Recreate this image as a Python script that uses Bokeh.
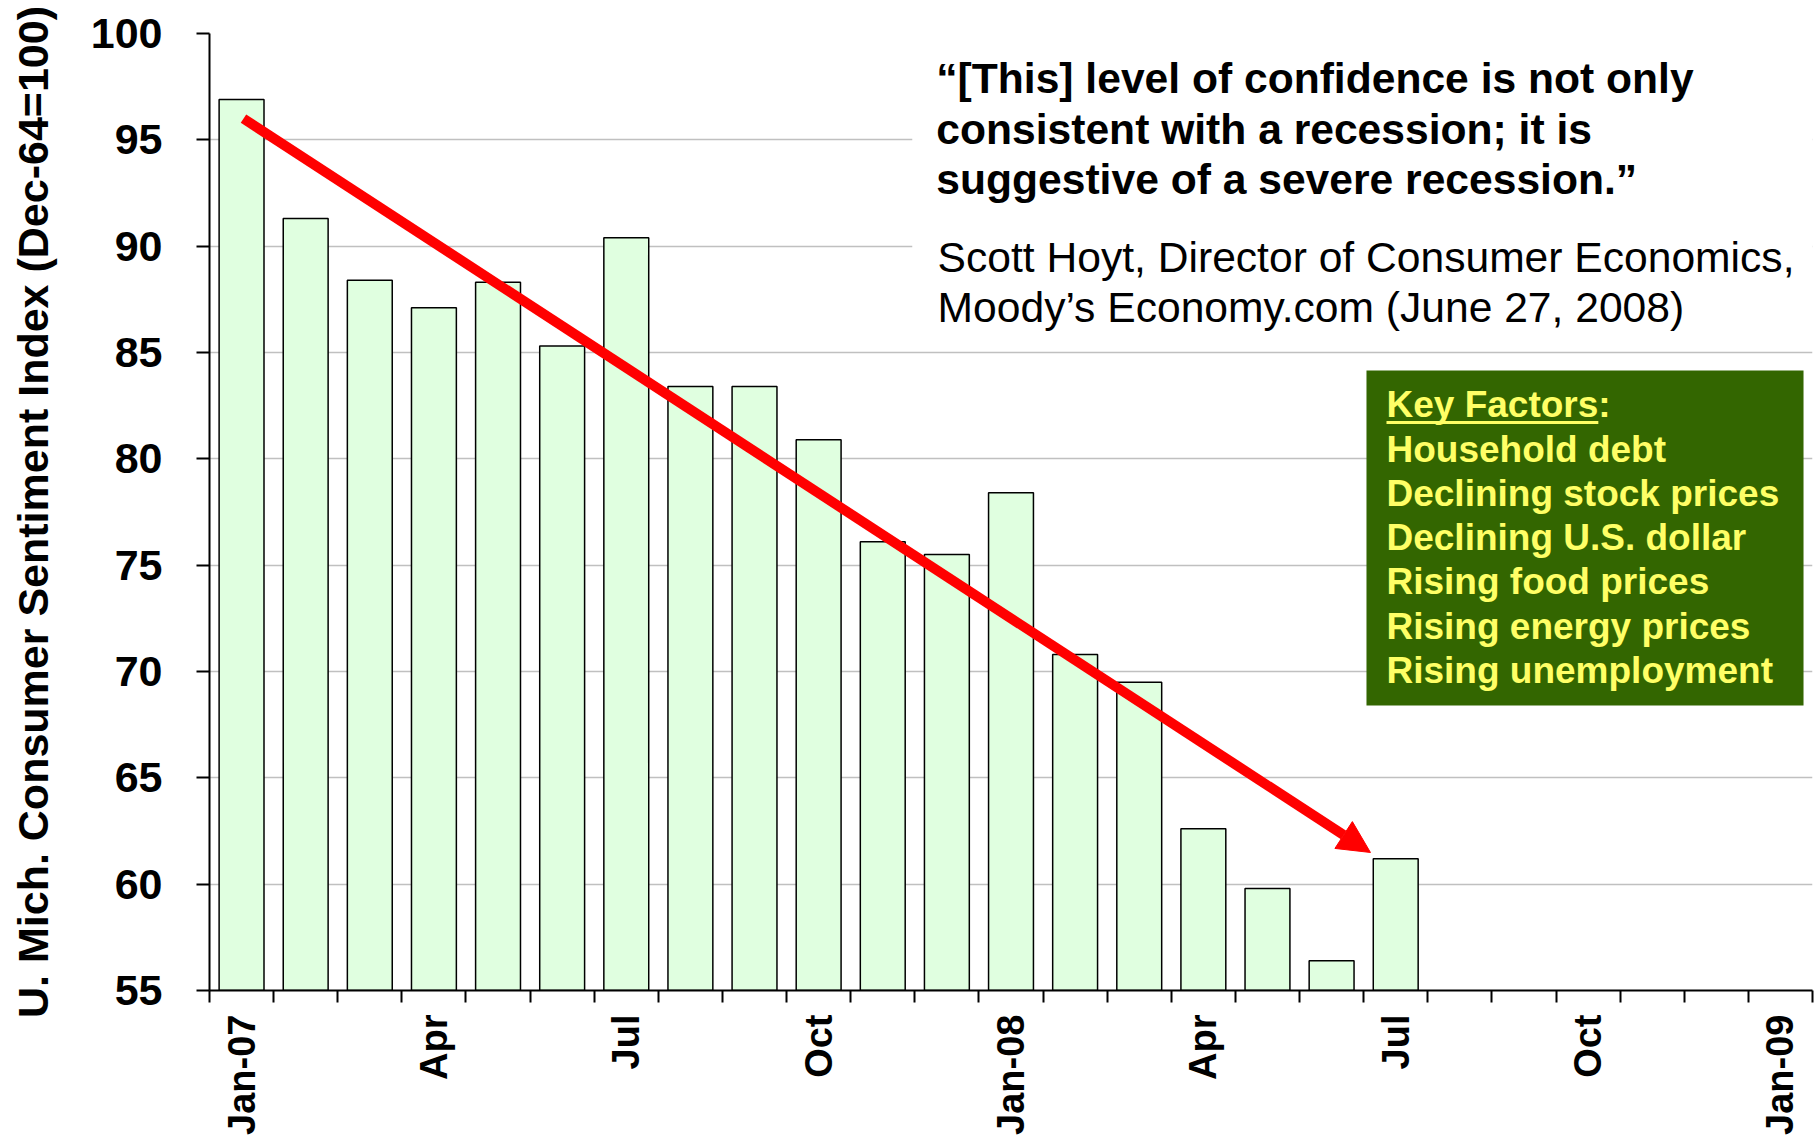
from bokeh.plotting import figure
from bokeh.models import Range1d, FixedTicker, Arrow, NormalHead, ColumnDataSource
from bokeh.core.properties import value
from bokeh.embed import file_html
from bokeh.resources import INLINE

# ---------------- data ----------------
months = ["Jan-07", "Feb-07", "Mar-07", "Apr-07", "May-07", "Jun-07", "Jul-07",
          "Aug-07", "Sep-07", "Oct-07", "Nov-07", "Dec-07", "Jan-08", "Feb-08",
          "Mar-08", "Apr-08", "May-08", "Jun-08", "Jul-08"]
sentiment = [96.9, 91.3, 88.4, 87.1, 88.3, 85.3, 90.4, 83.4, 83.4, 80.9, 76.1,
             75.5, 78.4, 70.8, 69.5, 62.6, 59.8, 56.4, 61.2]
tick_positions = [0, 3, 6, 9, 12, 15, 18, 21, 24]
tick_labels = ["Jan-07", "Apr", "Jul", "Oct", "Jan-08", "Apr", "Jul", "Oct", "Jan-09"]
y_ticks = [55, 60, 65, 70, 75, 80, 85, 90, 95, 100]
n_slots = 25

quote_lines = ["\u201c[This] level of confidence is not only",
               "consistent with a recession; it is",
               "suggestive of a severe recession.\u201d"]
attribution_lines = ["Scott Hoyt, Director of Consumer Economics,",
                     "Moody\u2019s Economy.com (June 27, 2008)"]
factor_title = "Key Factors"
factors = ["Household debt", "Declining stock prices", "Declining U.S. dollar",
           "Rising food prices", "Rising energy prices", "Rising unemployment"]

FONT = value("Liberation Sans")

# ---------------- figure ----------------
p = figure(width=1818, height=1139, output_backend="svg", toolbar_location=None,
           x_range=Range1d(-0.5, n_slots - 0.5), y_range=Range1d(55, 100),
           min_border_left=209, min_border_right=6, min_border_top=33,
           min_border_bottom=149)
p.outline_line_color = None
p.background_fill_color = "white"
p.border_fill_color = "white"

# grid
p.xgrid.grid_line_color = None
p.ygrid.ticker = FixedTicker(ticks=y_ticks)
p.ygrid.grid_line_color = "#c0c0c0"
p.ygrid.grid_line_width = 1.5

# y axis
ya = p.yaxis[0]
ya.ticker = FixedTicker(ticks=y_ticks)
ya.axis_label = "U. Mich. Consumer Sentiment Index (Dec-64=100)"
ya.axis_label_text_font = "Liberation Sans"
ya.axis_label_text_font_style = "bold"
ya.axis_label_text_font_size = "43px"
ya.axis_label_text_color = "black"
ya.axis_label_standoff = 31
ya.major_label_text_font = "Liberation Sans"
ya.major_label_text_font_style = "bold"
ya.major_label_text_font_size = "43px"
ya.major_label_text_color = "black"
ya.major_label_standoff = 34
ya.major_tick_out = 13
ya.major_tick_in = 0
ya.major_tick_line_width = 2
ya.minor_tick_line_color = None
ya.axis_line_width = 2
ya.axis_line_color = "black"

# x axis
xa = p.xaxis[0]
xa.ticker = FixedTicker(ticks=tick_positions,
                        minor_ticks=[i - 0.5 for i in range(n_slots + 1)])
xa.major_label_overrides = {t: l for t, l in zip(tick_positions, tick_labels)}
xa.major_label_orientation = 3.14159265 / 2
xa.major_label_text_font = "Liberation Sans"
xa.major_label_text_font_style = "bold"
xa.major_label_text_font_size = "38px"
xa.major_label_text_color = "black"
xa.major_label_standoff = 12
xa.major_tick_out = 0
xa.major_tick_in = 0
xa.minor_tick_out = 12
xa.minor_tick_in = 0
xa.minor_tick_line_color = "black"
xa.minor_tick_line_width = 2
xa.axis_line_width = 2
xa.axis_line_color = "black"

# bars
bar_src = ColumnDataSource(dict(x=list(range(len(months))), top=sentiment,
                                month=months))
p.vbar(x="x", top="top", bottom=55, width=0.7, source=bar_src,
       fill_color="#e0ffe0", line_color="black", line_width=1.5)

# white panel behind the quote (hides gridlines)
p.quad(left=[10.46], right=[24.5], bottom=[85.6], top=[99.5],
       fill_color="white", line_color=None)

# quote
p.text(x=[10.835] * 3, y=[97.93, 95.53, 93.14], text=quote_lines,
       text_font=FONT, text_font_style="bold", text_font_size="42.6px",
       text_color="black", text_baseline="middle", text_align="left")
p.text(x=[10.855] * 2, y=[89.51, 87.16], text=attribution_lines,
       text_font=FONT, text_font_style="normal", text_font_size="42.6px",
       text_color="black", text_baseline="middle", text_align="left")

# key factors box
p.quad(left=[17.544], right=[24.36], bottom=[68.40], top=[84.15],
       fill_color="#336600", line_color=None)
kf_y = [82.56, 80.46, 78.38, 76.30, 74.21, 72.13, 70.05]
p.text(x=[17.856], y=[kf_y[0]], text=[factor_title],
       text_font=FONT, text_font_style="bold", text_font_size="37px",
       text_color="#ffff66", text_baseline="middle", text_align="left")
p.text(x=[21.16], y=[kf_y[0]], text=[":"],
       text_font=FONT, text_font_style="bold", text_font_size="37px",
       text_color="#ffff66", text_baseline="middle", text_align="left")
p.segment(x0=[17.856], y0=[81.71], x1=[21.16], y1=[81.71],
          line_color="#ffff66", line_width=3)
p.text(x=[17.856] * len(factors), y=kf_y[1:], text=factors,
       text_font=FONT, text_font_style="bold", text_font_size="37px",
       text_color="#ffff66", text_baseline="middle", text_align="left")

# trend arrow
p.add_layout(Arrow(end=NormalHead(size=32, fill_color="red", line_color="red"),
                   x_start=0.03, y_start=96.0, x_end=17.606, y_end=61.49,
                   line_color="red", line_width=10, line_cap="butt"))

open("out.html", "w").write(file_html(p, INLINE))
